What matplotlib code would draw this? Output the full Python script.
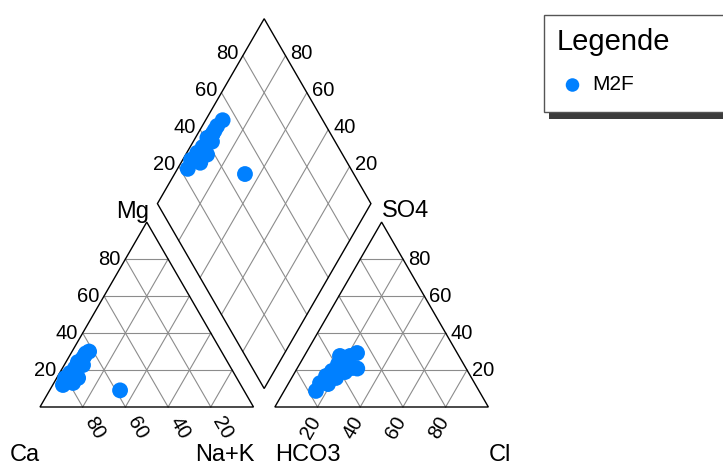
import numpy as np
import matplotlib
matplotlib.use("Agg")
import matplotlib.pyplot as plt
from matplotlib.patches import Rectangle, Polygon

plt.rcParams['font.family'] = ['Liberation Sans', 'DejaVu Sans']

# ---- data (percent of meq) ----
ca   = [83.3, 80.4, 78.0, 76.7, 74.3, 73.0, 70.1, 68.5, 66.5, 67.0, 64.0, 65.0, 62.0, 58.0]
mg   = [11.9, 15.7, 13.0, 18.4, 15.7, 21.1, 24.3, 22.7, 26.5, 26.0, 29.0, 28.0, 30.0,  9.0]
nak  = [ 4.8,  3.9,  9.0,  4.9, 10.0,  5.9,  5.6,  8.8,  7.0,  7.0,  7.0,  7.0,  8.0, 33.0]
hco3 = [76.4, 72.4, 68.9, 67.6, 63.5, 63.5, 58.8, 57.7, 55.7, 54.9, 53.3, 51.0, 46.9, 51.0]
cl   = [14.9, 14.7, 18.7, 15.6, 20.8, 17.0, 18.0, 23.4, 16.7, 19.7, 25.6, 21.4, 23.9, 28.2]
so4  = [ 8.7, 12.9, 12.4, 16.8, 15.7, 19.5, 23.2, 18.9, 27.6, 25.4, 21.1, 27.6, 29.2, 20.8]
series_name = "M2F"
grid_vals = [20, 40, 60, 80]

# ---- geometry ----
W, H = 723, 466
S, X0, Y0 = 213.5, 40.0, 407.0
g = 0.1
h = np.sqrt(3) / 2
color = '#0080ff'

fig = plt.figure(figsize=(W / 100, H / 100), dpi=100)
ax = fig.add_axes([0, 0, 1, 1])
ax.set_xlim(-X0 / S, (W - X0) / S)
ax.set_ylim((Y0 - H) / S, Y0 / S)
ax.axis('off')


def P(px, py):
    return ((px - X0) / S, (Y0 - py) / S)


gc = '#8c8c8c'
glw = 0.8
olw = 1.0

# left (cation) triangle
ax.add_patch(Polygon([(0, 0), (1, 0), (0.5, h)], closed=True, fill=False, ec='black', lw=olw, zorder=3))
# right (anion) triangle
ox = 1 + g
ax.add_patch(Polygon([(ox, 0), (ox + 1, 0), (ox + 0.5, h)], closed=True, fill=False, ec='black', lw=olw, zorder=3))
# diamond
B = np.array([1 + g / 2, g * h])
du = np.array([-0.5, h])
dv = np.array([0.5, h])
ax.add_patch(Polygon([B, B + du, B + du + dv, B + dv], closed=True, fill=False, ec='black', lw=olw, zorder=3))

for v in grid_vals:
    f = v / 100
    for off in (0, ox):
        ax.plot([off + 0.5 * f, off + 1 - 0.5 * f], [h * f, h * f], color=gc, lw=glw, zorder=1)
        ax.plot([off + f, off + f + 0.5 * (1 - f)], [0, h * (1 - f)], color=gc, lw=glw, zorder=1)
        ax.plot([off + 1 - f, off + 0.5 * (1 - f)], [0, h * (1 - f)], color=gc, lw=glw, zorder=1)
    a0 = B + f * du
    a1 = a0 + dv
    ax.plot([a0[0], a1[0]], [a0[1], a1[1]], color=gc, lw=glw, zorder=1)
    b0 = B + f * dv
    b1 = b0 + du
    ax.plot([b0[0], b1[0]], [b0[1], b1[1]], color=gc, lw=glw, zorder=1)

tfs = 14.5
for v in grid_vals:
    f = v / 100
    s = str(v)
    ax.annotate(s, (0.5 * f, h * f), xytext=(-5, 0), textcoords='offset pixels',
                ha='right', va='center', fontsize=tfs)
    ax.annotate(str(100 - v), (f, 0), xytext=(12, -21), textcoords='offset pixels',
                ha='center', va='center', rotation=-60, fontsize=tfs)
    ax.annotate(s, (ox + f, 0), xytext=(-7, -21), textcoords='offset pixels',
                ha='center', va='center', rotation=60, fontsize=tfs)
    ax.annotate(s, (ox + 1 - 0.5 * f, h * f), xytext=(5, 0), textcoords='offset pixels',
                ha='left', va='center', fontsize=tfs)
    p = B + du + f * dv
    ax.annotate(s, p, xytext=(-4, 2), textcoords='offset pixels',
                ha='right', va='center', fontsize=tfs)
    p = B + dv + f * du
    ax.annotate(s, p, xytext=(5, 2), textcoords='offset pixels',
                ha='left', va='center', fontsize=tfs)

lfs = 17
for txt, (px, py) in [("Ca", (10, 461)), ("Na+K", (195, 461)), ("HCO3", (275, 461)),
                      ("Cl", (489, 461)), ("Mg", (116, 218)), ("SO4", (382, 217))]:
    ax.text(*P(px, py), txt, ha='left', va='baseline', fontsize=lfs)

# ---- data points ----
ca_a, mg_a, nak_a = np.array(ca) / 100, np.array(mg) / 100, np.array(nak) / 100
hco3_a, cl_a, so4_a = np.array(hco3) / 100, np.array(cl) / 100, np.array(so4) / 100
cx = nak_a + 0.5 * mg_a
cy = h * mg_a
axx = ox + cl_a + 0.5 * so4_a
ayy = h * so4_a
u = 1 - nak_a
vv = 1 - hco3_a
dx = B[0] + u * du[0] + vv * dv[0]
dy = B[1] + u * du[1] + vv * dv[1]
ms = 130
for X, Y in [(cx, cy), (axx, ayy), (dx, dy)]:
    ax.scatter(X, Y, s=ms, color=color, edgecolors='none', zorder=5)

# ---- legend ----
x0, y0 = P(549, 119)
x1, y1 = P(760, 22)
ax.add_patch(Rectangle((x0, y0), x1 - x0, y1 - y0, facecolor='#3c3c3c', edgecolor='none', zorder=6, clip_on=False))
x0, y0 = P(544, 112)
x1, y1 = P(760, 15)
ax.add_patch(Rectangle((x0, y0), x1 - x0, y1 - y0, facecolor='white', edgecolor='#555555', lw=1.0, zorder=7, clip_on=False))
ax.text(*P(557, 50), "Legende", ha='left', va='baseline', fontsize=21, zorder=8)
ax.scatter(*P(572.5, 85), s=95, color=color, edgecolors='none', zorder=8)
ax.text(*P(592, 85), series_name, ha='left', va='center', fontsize=15, zorder=8)

fig.savefig('out.png', dpi=100)
